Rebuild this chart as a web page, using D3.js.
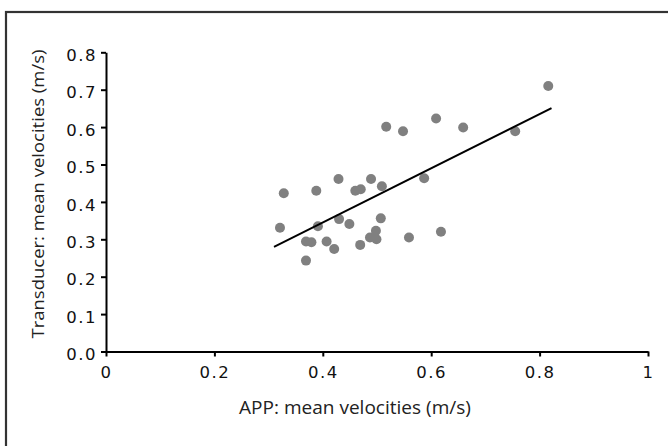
<!DOCTYPE html>
<html>
<head>
<meta charset="utf-8">
<script src="https://cdn.jsdelivr.net/npm/d3@7"></script>
<style>
  body { margin: 0; background: #fff; }
  #chart { width: 668px; height: 446px; }
  .tick text { font-family: "DejaVu Sans", Verdana, sans-serif; font-size: 16.5px; letter-spacing: 1.5px; fill: #111; }
  .title { font-family: "Open Sans", sans-serif; fill: #222; }
</style>
</head>
<body>
<div id="chart"></div>
<script>
// APP mean velocities (x) vs transducer mean velocities (y), m/s
const appValues = [0.816, 0.609, 0.517, 0.548, 0.659, 0.755, 0.587, 0.429, 0.489, 0.328,
  0.388, 0.460, 0.470, 0.509, 0.430, 0.449, 0.507, 0.391, 0.321, 0.369,
  0.379, 0.407, 0.421, 0.469, 0.487, 0.498, 0.499, 0.559, 0.618, 0.369];
const transducerValues = [0.710, 0.623, 0.601, 0.589, 0.599, 0.589, 0.463, 0.461, 0.461, 0.423,
  0.430, 0.430, 0.434, 0.442, 0.354, 0.341, 0.356, 0.335, 0.331, 0.294,
  0.292, 0.294, 0.274, 0.285, 0.305, 0.323, 0.300, 0.305, 0.320, 0.243];

// trend line end points
const trendX = [0.31, 0.822];
const trendY = [0.28, 0.651];

const xTicks = [0, 0.2, 0.4, 0.6, 0.8, 1];
const xTickLabels = ["0", "0.2", "0.4", "0.6", "0.8", "1"];
const yTicks = [0, 0.1, 0.2, 0.3, 0.4, 0.5, 0.6, 0.7, 0.8];
const yTickLabels = ["0.0", "0.1", "0.2", "0.3", "0.4", "0.5", "0.6", "0.7", "0.8"];

const width = 668, height = 446;

const svg = d3.select("#chart")
  .append("svg")
  .attr("width", width)
  .attr("height", height);

// outer frame (runs off the right and bottom edge)
svg.append("rect")
  .attr("x", 6)
  .attr("y", 12)
  .attr("width", 700)
  .attr("height", 500)
  .attr("fill", "none")
  .attr("stroke", "#333")
  .attr("stroke-width", 2.2);

const x = d3.scaleLinear().domain([0, 1]).range([106, 648]);
const y = d3.scaleLinear().domain([0, 0.8]).range([351.5, 52.3]);

// axes
const xAxis = svg.append("g")
  .attr("transform", `translate(0,${y(0)})`)
  .call(d3.axisBottom(x)
    .tickValues(xTicks)
    .tickFormat((d, i) => xTickLabels[i])
    .tickSize(5)
    .tickSizeOuter(0));

const yAxis = svg.append("g")
  .attr("transform", `translate(${x(0)},0)`)
  .call(d3.axisLeft(y)
    .tickValues(yTicks)
    .tickFormat((d, i) => yTickLabels[i])
    .tickSize(5)
    .tickSizeOuter(0));

[xAxis, yAxis].forEach(g => {
  g.selectAll("path, line").attr("stroke", "#000").attr("stroke-width", 2);
});
xAxis.selectAll("text").attr("dy", null).attr("y", 26);
yAxis.selectAll("text").attr("x", -9).attr("dy", "0.5em");

// points
svg.selectAll(".dot")
  .data(appValues)
  .join("circle")
  .attr("class", "dot")
  .attr("cx", d => x(d))
  .attr("cy", (d, i) => y(transducerValues[i]))
  .attr("r", 5)
  .attr("fill", "#808080");

// trend line
const line = d3.line()
  .x(d => x(d[0]))
  .y(d => y(d[1]));

svg.append("path")
  .datum(trendX.map((d, i) => [d, trendY[i]]))
  .attr("fill", "none")
  .attr("stroke", "#000")
  .attr("stroke-width", 2)
  .attr("d", line);

// axis titles
svg.append("text")
  .attr("class", "title")
  .attr("x", 355)
  .attr("y", 414)
  .attr("text-anchor", "middle")
  .attr("font-size", 18)
  .attr("textLength", 232)
  .attr("lengthAdjust", "spacingAndGlyphs")
  .text("APP: mean velocities (m/s)");

svg.append("text")
  .attr("class", "title")
  .attr("transform", "translate(44,194) rotate(-90)")
  .attr("text-anchor", "middle")
  .attr("font-size", 17)
  .attr("textLength", 289)
  .attr("lengthAdjust", "spacingAndGlyphs")
  .text("Transducer: mean velocities (m/s)");
</script>
</body>
</html>
